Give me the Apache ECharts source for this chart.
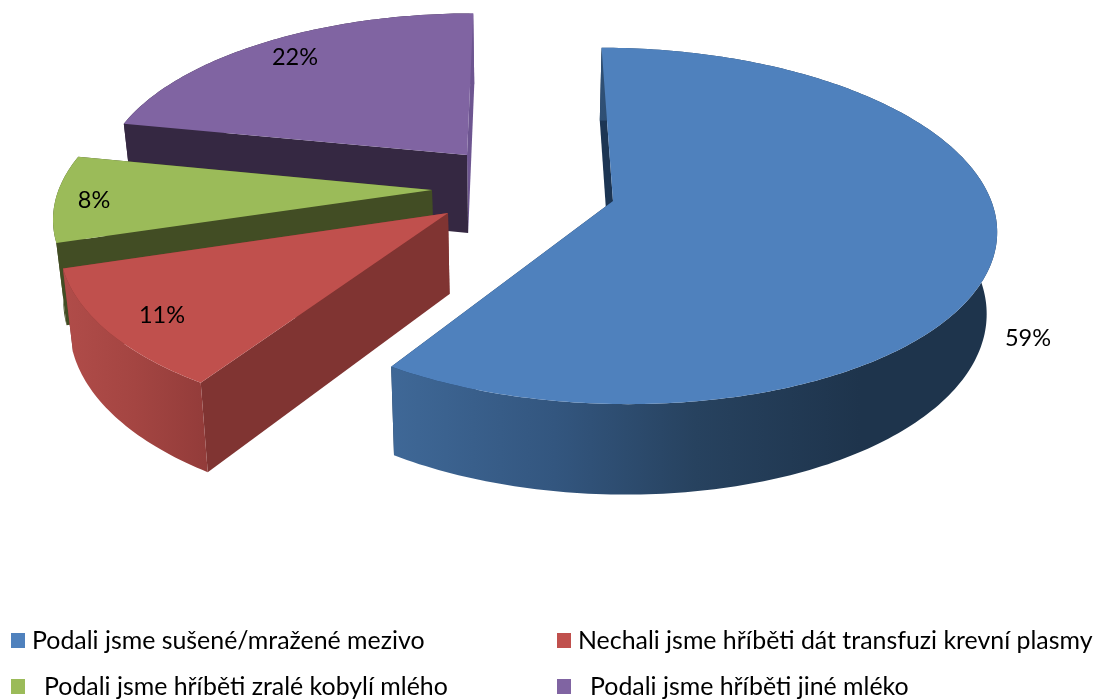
<!DOCTYPE html>
<html><head><meta charset="utf-8">
<style>html,body{margin:0;padding:0;background:#fff;overflow:hidden}#c{width:1096px;height:699px}</style>
<script src="https://cdn.jsdelivr.net/npm/echarts@6/dist/echarts.min.js"></script>
</head><body><div id="c"></div>
<script>
const categories = ["Podali jsme sušené/mražené mezivo","Nechali jsme hříběti dát transfuzi krevní plasmy","Podali jsme hříběti zralé kobylí mlého","Podali jsme hříběti jiné mléko"];
const shares = [59.2, 11, 8, 21.8];
const topColors = ["#4f81bd","#c0504d","#9bbb59","#8064a2"];
const startWall = ["#1c3553","#803432","#424d24","#352842"];
const endWall = ["#1c3553","#803432","#424d24","#6d5590"];
const rimStops = [
  [[0,"#3f6897"],[0.35,"#33567f"],[0.65,"#27425f"],[1,"#1e344c"]],
  [[0,"#b04c49"],[0.5,"#a44542"],[1,"#933c3a"]],
  [[0,"#424d24"],[1,"#424d24"]],
  [[0,"#352842"],[0.985,"#352842"],[0.99,"#6d5590"],[1,"#6d5590"]]
];
const rimSpan = [[391,860],[65,205],[55,100],[120,474]];
const apexes = [[613,201],[448,213],[432,190],[467,155]];
const radii = [0.992,0.995,0.988,0.983];
const labelAt = [[1028,338],[162,315],[94,200],[295,57]];
const view = {gx:520, gy:190, A:378, B:173, k:0.14};

const total = shares.reduce((a,b)=>a+b,0);
function project(U,V){const d=1-view.k*V;return [view.gx+view.A*U/d, view.gy+view.B*V/d];}
function planeOf(p){const Y=p[1]-view.gy,X=p[0]-view.gx;const V=Y/(view.B+view.k*Y);return [X*(1-view.k*V)/view.A,V];}
function drop(p){const d=78+(p[1]-155)*0.05;return [p[0]+(view.gx-p[0])*0.022,p[1]+d];}

function renderSlice(i){
  return function(params,api){
    const before=shares.slice(0,i).reduce((a,b)=>a+b,0);
    const a0=before/total*360, a1=(before+api.value(0))/total*360;
    const o=planeOf(apexes[i]), r=radii[i];
    const rim=[];
    for(let a=a0;;a+=1){
      const t=Math.min(a,a1)*Math.PI/180;
      rim.push(project(o[0]+r*Math.sin(t),o[1]-r*Math.cos(t)));
      if(a>=a1)break;
    }
    const apex=apexes[i];
    const bRim=rim.map(drop), bApex=drop(apex);
    const last=rim.length-1;
    const poly=(pts,fill)=>({type:'polygon',shape:{points:pts},style:{fill:fill,stroke:null},silent:true});
    const span=rimSpan[i];
    const grad=new echarts.graphic.LinearGradient(span[0],0,span[1],0,rimStops[i].map(s=>({offset:s[0],color:s[1]})),true);
    return {type:'group',children:[
      poly([apex,rim[last],bRim[last],bApex],endWall[i]),
      poly([apex,rim[0],bRim[0],bApex],startWall[i]),
      poly(rim.concat(bRim.slice().reverse()),grad),
      poly([apex].concat(rim),topColors[i]),
      {type:'text',silent:true,style:{x:labelAt[i][0],y:labelAt[i][1],text:Math.round(api.value(0))+'%',align:'center',verticalAlign:'middle',fill:'#000',font:'23.5px Lato'}}
    ]};
  };
}

const legendPos=[[11,628,0],[557,628,0],[11,674,12],[557,674,12]];
const chart=echarts.init(document.getElementById('c'),null,{renderer:'canvas'});
chart.setOption({
  animation:false,
  backgroundColor:'#fff',
  legend:categories.map((c,i)=>({
    show:true,data:[{name:c,icon:'rect'}],orient:'horizontal',left:legendPos[i][0],top:legendPos[i][1],padding:0,
    itemWidth:14,itemHeight:15,itemGap:0,selectedMode:false,
    textStyle:{fontFamily:'Lato',fontSize:24.9,color:'#000',padding:[0,0,0,legendPos[i][2]+2]}
  })),
  series:categories.map((c,i)=>({
    type:'custom',name:c,coordinateSystem:'none',data:[[shares[i]]],
    itemStyle:{color:topColors[i]},z:2+(3-i),
    renderItem:renderSlice(i),silent:true
  }))
});
</script></body></html>
